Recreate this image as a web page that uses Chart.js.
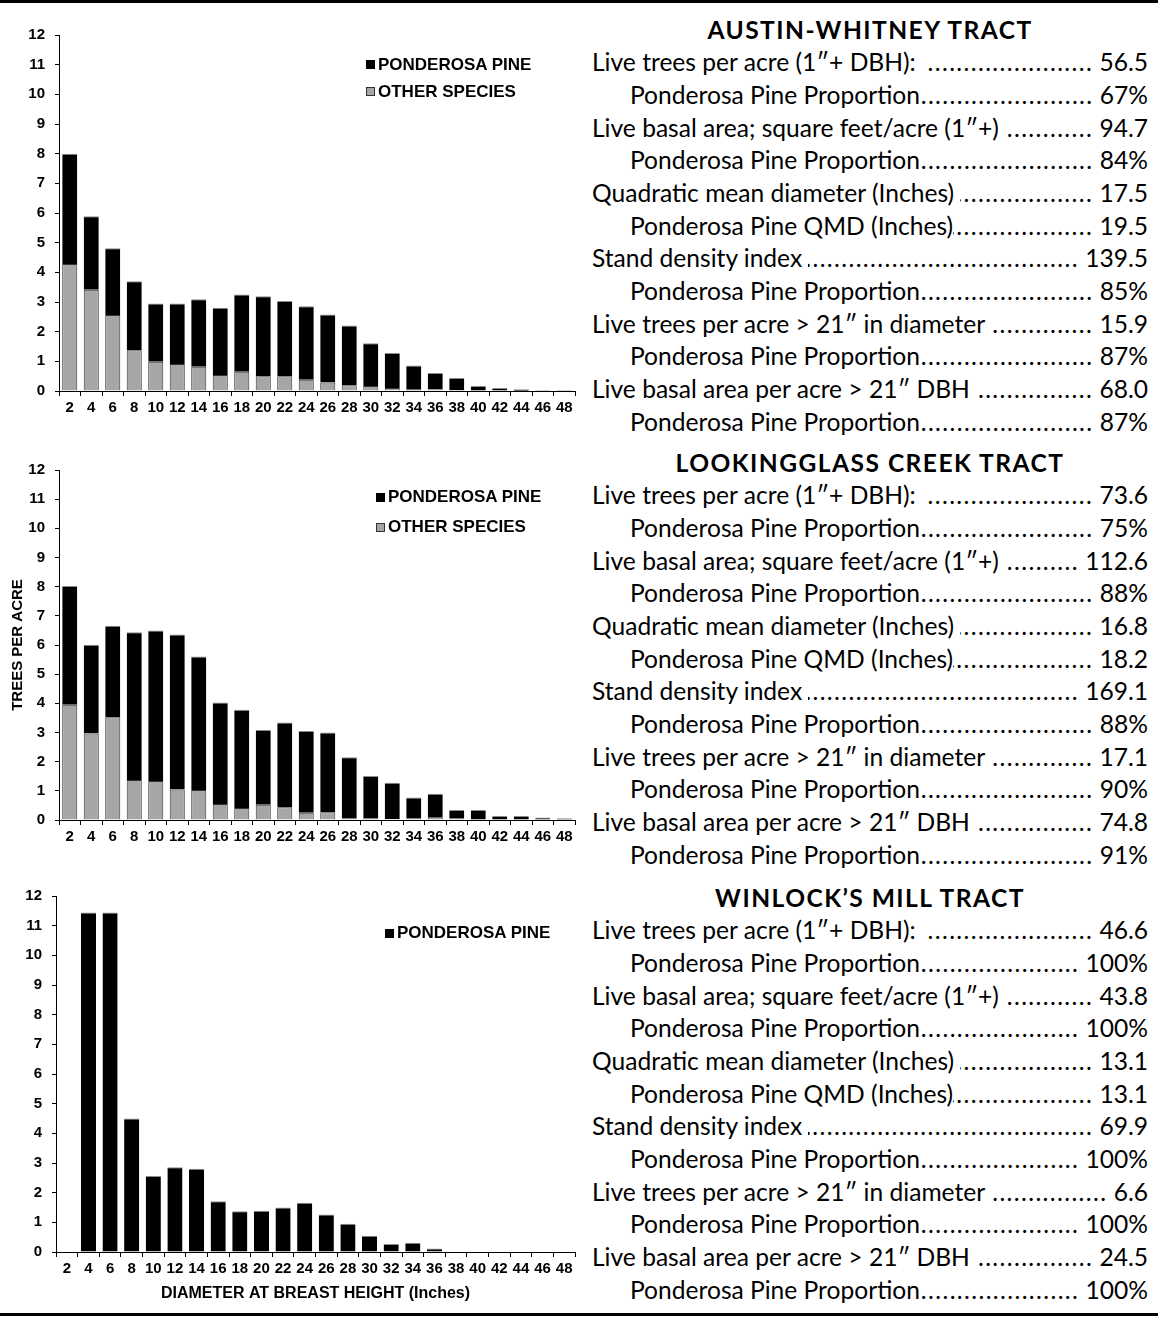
<!DOCTYPE html>
<html>
<head>
<meta charset="utf-8">
<script src="https://cdn.jsdelivr.net/npm/chart.js@4.4.0/dist/chart.umd.min.js"></script>
<style>
body { margin: 0; background: #fff; }
#page { position: relative; width: 1158px; height: 1320px; overflow: hidden; }
.rule { position: absolute; left: 0; width: 1158px; height: 3px; background: #000; }
canvas { position: absolute; left: 0; }
.legend { position: absolute; font: bold 17px "Liberation Sans", Arial, sans-serif; color: #000; }
.legend div { display: flex; align-items: center; white-space: nowrap; }
.legend i { display: inline-block; width: 9px; height: 9px; margin-right: 3px; box-sizing: border-box; }
.panel { position: absolute; left: 592px; width: 556px; font-family: Lato, "Open Sans", sans-serif; color: #000; }
.panel .line { display: flex; height: 32.7px; line-height: 32.7px; white-space: pre; }
.panel .title { display: block; text-align: center; font-weight: bold; }
.panel .indent { padding-left: 38px; }
.lead { flex: 1; overflow: hidden; position: relative; }
.lead span { position: absolute; right: 0; top: 0; }
</style>
</head>
<body>
<div id="page">
  <div class="rule" style="top:0"></div>
  <div class="rule" style="top:1313px"></div>
  <canvas id="c1" width="580" height="430" style="top:0"></canvas>
  <canvas id="c2" width="580" height="430" style="top:430px"></canvas>
  <canvas id="c3" width="580" height="455" style="top:860px"></canvas>
  <div id="lg1" class="legend" style="left:366px;top:51px"></div>
  <div id="lg2" class="legend" style="left:376px;top:482px"></div>
  <div id="lg3" class="legend" style="left:385px;top:919px"></div>
  <div id="p1" class="panel" style="top:13.6px"></div>
  <div id="p2" class="panel" style="top:446.6px"></div>
  <div id="p3" class="panel" style="top:881.6px"></div>
</div>
<script>
// diameter classes (inches)
const dbhLabels = ['2','4','6','8','10','12','14','16','18','20','22','24','26','28','30','32','34','36','38','40','42','44','46','48'];

// trees per acre, stacked: other species at the bottom, ponderosa pine on top
const austinOther = [4.28, 3.41, 2.56, 1.37, 0.99, 0.91, 0.82, 0.54, 0.65, 0.50, 0.50, 0.38, 0.29, 0.19, 0.17, 0.10, 0.04, 0.05, 0.03, 0, 0, 0.01, 0, 0];
const austinPine  = [3.72, 2.48, 2.25, 2.33, 1.96, 2.04, 2.27, 2.27, 2.60, 2.69, 2.53, 2.48, 2.29, 2.02, 1.44, 1.18, 0.82, 0.56, 0.41, 0.17, 0.10, 0.05, 0.03, 0.03];

const glassOther = [3.95, 2.97, 3.52, 1.37, 1.34, 1.05, 1.03, 0.55, 0.41, 0.52, 0.44, 0.25, 0.27, 0.06, 0.06, 0.03, 0.06, 0.08, 0.06, 0, 0, 0, 0, 0];
const glassPine  = [4.07, 3.04, 3.14, 5.07, 5.16, 5.31, 4.58, 3.48, 3.37, 2.57, 2.90, 2.80, 2.73, 2.09, 1.45, 1.25, 0.71, 0.82, 0.28, 0.34, 0.14, 0.14, 0.09, 0.06];

const winlockPine = [0, 11.44, 11.44, 4.50, 2.56, 2.86, 2.81, 1.71, 1.37, 1.39, 1.50, 1.66, 1.26, 0.95, 0.55, 0.27, 0.31, 0.12, 0, 0, 0, 0, 0, 0];

// stand summary table
const statLabels = [
  'Live trees per acre (1\u2033+ DBH):  ',
  'Ponderosa Pine Proportion',
  'Live basal area; square feet/acre (1\u2033+) ',
  'Ponderosa Pine Proportion',
  'Quadratic mean diameter (Inches) ',
  'Ponderosa Pine QMD (Inches)',
  'Stand density index ',
  'Ponderosa Pine Proportion',
  'Live trees per acre > 21\u2033 in diameter ',
  'Ponderosa Pine Proportion',
  'Live basal area per acre > 21\u2033 DBH ',
  'Ponderosa Pine Proportion'
];
const tractNames = ['AUSTIN-WHITNEY TRACT', 'LOOKINGGLASS CREEK TRACT', 'WINLOCK\u2019S MILL TRACT'];
const austinStats  = ['56.5', '67%', '94.7', '84%', '17.5', '19.5', '139.5', '85%', '15.9', '87%', '68.0', '87%'];
const glassStats   = ['73.6', '75%', '112.6', '88%', '16.8', '18.2', '169.1', '88%', '17.1', '90%', '74.8', '91%'];
const winlockStats = ['46.6', '100%', '43.8', '100%', '13.1', '13.1', '69.9', '100%', '6.6', '100%', '24.5', '100%'];

const PINE = '#000000';
const OTHER = '#a6a6a6';
const tickFont = { family: '"Liberation Sans", Arial, sans-serif', size: 15, weight: 'bold' };
const titleFont = { family: '"Liberation Sans", Arial, sans-serif', size: 15, weight: 'bold' };
const xTitleFont = { family: '"Liberation Sans", Arial, sans-serif', size: 16, weight: 'bold' };

function pineSet(data) {
  return { label: 'PONDEROSA PINE', data, backgroundColor: PINE, borderColor: '#8a8a8a',
           borderWidth: { top: 1, left: 0, right: 0, bottom: 0 }, borderSkipped: false };
}
function otherSet(data) {
  return { label: 'OTHER SPECIES', data, backgroundColor: OTHER, borderColor: '#333333', borderWidth: 1 };
}

function barChart(id, datasets, o) {
  return new Chart(document.getElementById(id), {
    type: 'bar',
    data: { labels: dbhLabels, datasets },
    options: {
      responsive: false,
      animation: false,
      layout: { padding: { top: o.padTop, right: 5, left: 0, bottom: 0 } },
      plugins: { legend: { display: false }, tooltip: { enabled: false } },
      datasets: { bar: { categoryPercentage: 1, barPercentage: 0.7 } },
      scales: {
        x: {
          stacked: true,
          grid: { offset: true, drawOnChartArea: false, tickLength: 5, color: '#000' },
          border: { color: '#000' },
          ticks: { font: tickFont, color: '#000', padding: 3, autoSkip: false, maxRotation: 0 },
          title: { display: !!o.xTitle, text: o.xTitle || '', font: xTitleFont, color: '#000', padding: { top: 0, bottom: 12 } },
          afterFit: s => { s.height = o.xHeight; }
        },
        y: {
          stacked: true,
          min: 0, max: 12,
          grid: { drawOnChartArea: false, tickLength: 4, color: '#000' },
          border: { color: '#000' },
          ticks: { stepSize: 1, font: tickFont, color: '#000', padding: 10 },
          title: { display: !!o.yTitle, text: o.yTitle || '', font: titleFont, color: '#000', padding: { top: 9, bottom: 0 } },
          afterFit: s => { s.width = o.yWidth; }
        }
      }
    }
  });
}

function legend(id, datasets, rowH) {
  const el = document.getElementById(id);
  datasets.slice().reverse().forEach(d => {
    const row = document.createElement('div');
    row.style.height = rowH + 'px';
    const sw = document.createElement('i');
    sw.style.background = d.backgroundColor;
    if (d.backgroundColor !== PINE) sw.style.border = '1px solid #333';
    row.appendChild(sw);
    row.appendChild(document.createTextNode(d.label));
    el.appendChild(row);
  });
}

const set1 = [otherSet(austinOther), pineSet(austinPine)];
const set2 = [otherSet(glassOther), pineSet(glassPine)];
const set3 = [pineSet(winlockPine)];

barChart('c1', set1, { padTop: 35, xHeight: 39, yWidth: 59 });
barChart('c2', set2, { padTop: 40, xHeight: 40, yWidth: 59, yTitle: 'TREES PER ACRE' });
barChart('c3', set3, { padTop: 36, xHeight: 63, yWidth: 56, xTitle: 'DIAMETER AT BREAST HEIGHT (Inches)' });
legend('lg1', set1, 27);
legend('lg2', set2, 30);
legend('lg3', set3, 28);

// size the table text so its rows span like the original
const mctx = document.createElement('canvas').getContext('2d');
mctx.font = '100px Lato';
const bodySize = 100 * 290 / mctx.measureText('Ponderosa Pine Proportion').width;
mctx.font = bodySize + 'px Lato';
const dotGap = Math.max(0, 7.2 - mctx.measureText('.').width);
mctx.font = 'bold ' + bodySize + 'px Lato';
const tw = mctx.measureText(tractNames[0]).width;
const spacing = (327 - tw) / tractNames[0].length;

function panel(id, name, values) {
  const el = document.getElementById(id);
  el.style.fontSize = bodySize + 'px';
  const t = document.createElement('div');
  t.className = 'line title';
  t.style.letterSpacing = spacing + 'px';
  t.textContent = name;
  el.appendChild(t);
  statLabels.forEach((lab, i) => {
    const row = document.createElement('div');
    row.className = 'line' + (i % 2 ? ' indent' : '');
    const a = document.createElement('span');
    a.textContent = lab;
    const lead = document.createElement('span');
    lead.className = 'lead';
    const dots = document.createElement('span');
    dots.style.letterSpacing = dotGap + 'px';
    dots.textContent = '.'.repeat(100);
    lead.appendChild(dots);
    const v = document.createElement('span');
    v.textContent = ' ' + values[i];
    row.appendChild(a); row.appendChild(lead); row.appendChild(v);
    el.appendChild(row);
  });
}
panel('p1', tractNames[0], austinStats);
panel('p2', tractNames[1], glassStats);
panel('p3', tractNames[2], winlockStats);
</script>
</body>
</html>
